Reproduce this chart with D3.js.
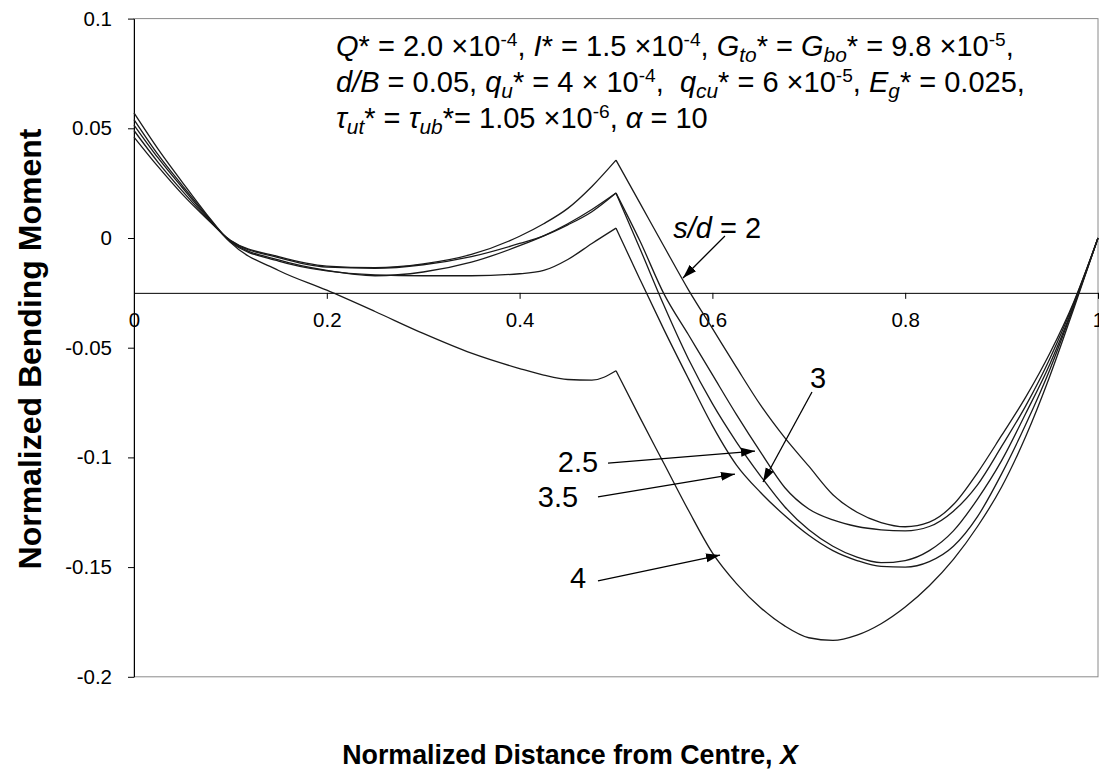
<!DOCTYPE html>
<html><head><meta charset="utf-8">
<script src="https://cdn.jsdelivr.net/npm/d3@7"></script>
<style>
body{margin:0;background:#fff}
svg{display:block}
text{font-family:"Liberation Sans", Arial, sans-serif; fill:#000}
</style>
</head><body>
<svg id="c" width="1099" height="776"></svg>
<script>
// ---- data ----
const X = [0,0.025,0.05,0.075,0.1,0.15,0.2,0.25,0.3,0.35,0.4,0.425,0.45,0.475,0.5,
           0.525,0.55,0.575,0.6,0.625,0.65,0.675,0.7,0.725,0.75,0.775,0.8,0.825,0.85,0.875,0.9,0.925,0.95,0.975,1];
const sd2  = [0.046,0.0325,0.020,0.009,-0.001,-0.0085,-0.0128,-0.0135,-0.0118,-0.0075,0.0008,0.0065,0.0135,0.0235,0.0355,
              0.0158,-0.004,-0.0235,-0.0412,-0.059,-0.0762,-0.091,-0.104,-0.117,-0.125,-0.1297,-0.1316,-0.1295,-0.1215,-0.107,-0.090,-0.0725,-0.0525,-0.029,0];
const sd25 = [0.049,0.0345,0.0215,0.0095,-0.0012,-0.009,-0.0133,-0.0138,-0.0122,-0.0085,-0.0025,0.001,0.006,0.012,0.0205,
              -0.0015,-0.0257,-0.044,-0.0623,-0.0805,-0.0976,-0.1137,-0.1235,-0.1285,-0.1315,-0.133,-0.1335,-0.1315,-0.1245,-0.1125,-0.095,-0.0765,-0.055,-0.0295,0];
const sd3  = [0.0515,0.0365,0.023,0.010,-0.0015,-0.010,-0.0148,-0.0172,-0.0155,-0.011,-0.0035,0.001,0.0065,0.013,0.0205,
              -0.005,-0.031,-0.055,-0.0755,-0.093,-0.1085,-0.1225,-0.133,-0.1405,-0.1455,-0.148,-0.147,-0.1425,-0.1335,-0.119,-0.1015,-0.080,-0.0575,-0.0305,0];
const sd35 = [0.054,0.038,0.024,0.0105,-0.0018,-0.0105,-0.015,-0.0168,-0.0172,-0.0172,-0.0163,-0.0148,-0.0098,-0.0025,0.0045,
              -0.019,-0.042,-0.064,-0.0855,-0.1035,-0.116,-0.1265,-0.1355,-0.1425,-0.147,-0.1497,-0.150,-0.1475,-0.1405,-0.127,-0.1075,-0.085,-0.060,-0.031,0];
const sd4  = [0.057,0.0405,0.0255,0.011,-0.002,-0.0148,-0.0238,-0.0335,-0.0435,-0.0525,-0.0595,-0.0625,-0.0645,-0.0648,-0.0605,
              -0.082,-0.103,-0.124,-0.1435,-0.1575,-0.1685,-0.1768,-0.1822,-0.1834,-0.181,-0.1758,-0.1682,-0.1585,-0.1465,-0.1315,-0.1135,-0.0905,-0.063,-0.032,0];
const series = [sd2, sd25, sd3, sd35, sd4];
const seriesLabels = ["2","2.5","3","3.5","4"];
const kinkX = 0.5;

const yTicks = [0.1,0.05,0,-0.05,-0.1,-0.15,-0.2];
const yTickLabels = ["0.1","0.05","0","-0.05","-0.1","-0.15","-0.2"];
const xTicks = [0,0.2,0.4,0.6,0.8,1];
const xTickLabels = ["0","0.2","0.4","0.6","0.8","1"];
const xAxisCross = -0.025;

// annotation labels & arrows, in data units
const notes = [
  {key:"2",   lab:[0.605,0.0046],  from:[0.613,0.0009],  to:[0.5695,-0.0182]},
  {key:"2.5", lab:[0.4606,-0.1021],from:[0.4917,-0.1026],to:[0.6442,-0.0971]},
  {key:"3.5", lab:[0.4398,-0.118], from:[0.4813,-0.118], to:[0.6234,-0.1076]},
  {key:"3",   lab:[0.7095,-0.0638],from:[0.7033,-0.0702],to:[0.6525,-0.1112]},
  {key:"4",   lab:[0.4606,-0.155], from:[0.4813,-0.1563],to:[0.6079,-0.1445]}
];

// ---- drawing ----
const svg = d3.select("#c");
const L=134, R=1098, T=18.6, B=676.8;
const x = d3.scaleLinear().domain([0,1]).range([L,R]);
const y = d3.scaleLinear().domain([-0.2,0.1]).range([B,T]);

svg.append("rect").attr("x",L).attr("y",T).attr("width",R-L).attr("height",B-T)
  .attr("fill","none").attr("stroke","#8a8a8a").attr("stroke-width",1);

const defs = svg.append("defs");
defs.append("marker").attr("id","ah").attr("markerUnits","userSpaceOnUse")
  .attr("markerWidth",16).attr("markerHeight",12).attr("refX",14).attr("refY",6)
  .attr("orient","auto")
  .append("path").attr("d","M0,1.5 L14,6 L0,10.5 Z").attr("fill","#000");

// y axis
const ya = svg.append("g").attr("transform",`translate(${L},0)`)
  .call(d3.axisLeft(y).tickValues(yTicks).tickFormat((d,i)=>yTickLabels[i])
        .tickSize(6).tickSizeOuter(0).tickPadding(16));
ya.selectAll("text").style("font-size","20.5px").style("fill","#000");
ya.selectAll("line,path").attr("stroke","#000");

// x axis
const xa = svg.append("g").attr("transform",`translate(0,${y(xAxisCross)})`)
  .call(d3.axisBottom(x).tickValues(xTicks).tickFormat((d,i)=>xTickLabels[i])
        .tickSize(6).tickSizeOuter(0).tickPadding(14));
xa.selectAll("text").style("font-size","20.5px").style("fill","#000");
xa.selectAll("line,path").attr("stroke","#000");

// curves
const line = d3.line().x(d=>x(d[0])).y(d=>y(d[1])).curve(d3.curveMonotoneX);
const k = X.indexOf(kinkX);
series.forEach(s=>{
  const pts = X.map((xv,i)=>[xv,s[i]]);
  [pts.slice(0,k+1), pts.slice(k)].forEach(seg=>{
    svg.append("path").attr("d",line(seg)).attr("fill","none")
      .attr("stroke","#1a1a1a").attr("stroke-width",1.3);
  });
});

// arrows & labels
notes.forEach(n=>{
  svg.append("line").attr("x1",x(n.from[0])).attr("y1",y(n.from[1]))
    .attr("x2",x(n.to[0])).attr("y2",y(n.to[1]))
    .attr("stroke","#000").attr("stroke-width",1.3).attr("marker-end","url(#ah)");
  const t = svg.append("text").attr("x",x(n.lab[0])).attr("y",y(n.lab[1]))
    .attr("text-anchor","middle").attr("dominant-baseline","central")
    .style("font-size","29px");
  if(n.key==="2"){
    t.append("tspan").style("font-style","italic").text("s/d");
    t.append("tspan").text(" = 2");
  } else t.text(n.key);
});

// rich text block (italics, sub/superscripts)
function rich(xp, yp, segs, size){
  const t = svg.append("text").attr("x",xp).attr("y",yp)
    .style("font-size",size+"px").style("white-space","pre");
  let shift = 0;
  segs.forEach(s=>{
    const ts = t.append("tspan").text(s.t);
    if(s.i) ts.style("font-style","italic");
    let target = 0, fsz = size;
    if(s.sup){ target = -size*0.34; fsz = size*0.66; }
    if(s.sub){ target = size*0.2; fsz = size*0.72; }
    const dy = target - shift;
    if(dy!==0) ts.attr("dy",dy);
    shift = target;
    if(fsz!==size) ts.style("font-size",fsz+"px");
  });
}
const fs = 29;
rich(336,56,[
  {t:"Q",i:1},{t:"* = 2.0 ×10"},{t:"-4",sup:1},{t:", "},{t:"I",i:1},{t:"* = 1.5 ×10"},{t:"-4",sup:1},{t:", "},
  {t:"G",i:1},{t:"to",i:1,sub:1},{t:"* = "},{t:"G",i:1},{t:"bo",i:1,sub:1},{t:"* = 9.8 ×10"},{t:"-5",sup:1},{t:","}
],fs);
rich(336,92,[
  {t:"d/B",i:1},{t:" = 0.05, "},{t:"q",i:1},{t:"u",i:1,sub:1},{t:"* = 4 × 10"},{t:"-4",sup:1},{t:",  "},
  {t:"q",i:1},{t:"cu",i:1,sub:1},{t:"* = 6 ×10"},{t:"-5",sup:1},{t:", "},{t:"E",i:1},{t:"g",i:1,sub:1},{t:"* = 0.025,"}
],fs);
rich(336,128,[
  {t:"τ",i:1},{t:"ut",i:1,sub:1},{t:"* = "},{t:"τ",i:1},{t:"ub",i:1,sub:1},{t:"*= 1.05 ×10"},{t:"-6",sup:1},{t:", "},
  {t:"α",i:1},{t:" = 10"}
],fs);

// axis titles
svg.append("text").attr("x",570).attr("y",755).attr("text-anchor","middle")
  .attr("dominant-baseline","central").style("font-size","26.8px").style("font-weight","bold")
  .call(t=>{t.append("tspan").text("Normalized Distance from Centre, ");
            t.append("tspan").style("font-style","italic").text("X");});
svg.append("text").attr("transform","translate(30,349) rotate(-90)").attr("text-anchor","middle")
  .attr("dominant-baseline","central").style("font-size","32px").style("font-weight","bold")
  .text("Normalized Bending Moment");
</script>
</body></html>
